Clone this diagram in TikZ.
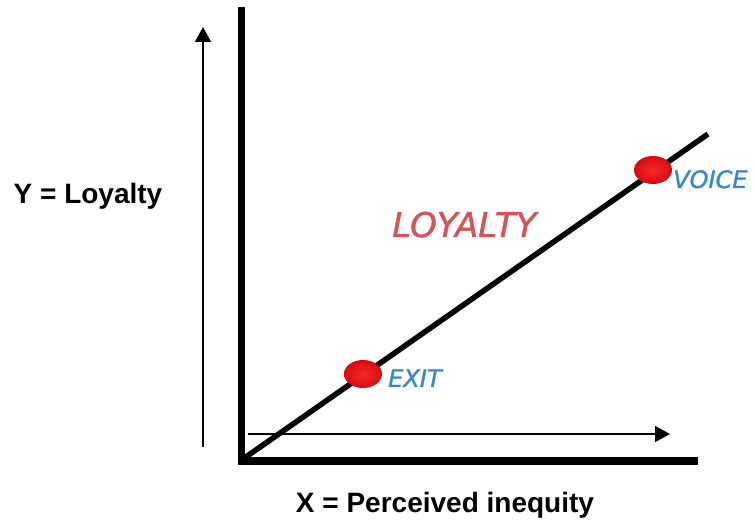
\documentclass[tikz,border=0pt]{standalone}
\usepackage{fontspec}
\setmainfont{Liberation Sans}
\newfontfamily\labelfont[FakeBold=1.3]{DejaVu Sans}
\usetikzlibrary{arrows.meta,shapes.geometric}
\definecolor{dotred}{RGB}{246,40,40}
\definecolor{dotdark}{RGB}{215,12,18}
\definecolor{voiceblue}{RGB}{58,135,208}
\definecolor{loyred}{RGB}{214,84,88}
\tikzset{
  axisline/.style={line width=7.5pt, line join=miter},
  diagline/.style={line width=5.5pt},
  thinarrow/.style={line width=1.5pt, -{Triangle[length=15pt,width=16pt]}},
  reddot/.style={ellipse, minimum width=38pt, minimum height=28pt, inner sep=0pt,
    inner color=dotred, outer color=dotdark},
  ptlabel/.style={font=\labelfont\itshape\fontsize{24}{26}\selectfont, text=voiceblue, inner sep=0pt, anchor=base west},
  axlabel/.style={font=\bfseries\fontsize{28}{30}\selectfont, inner sep=0pt, anchor=base},
}
\begin{document}
\begin{tikzpicture}[x=1pt,y=-1pt]
\useasboundingbox (0,0) rectangle (755,526);
% axes
\coordinate (ytop) at (241.5,7);
\coordinate (orig) at (241.5,461);
\coordinate (xend) at (698,461);
\draw[axisline] (ytop) -- (orig) -- (xend);
% diagonal
\coordinate (dstart) at (243,459);
\coordinate (dend) at (708,134);
\draw[diagline] (dstart) -- (dend);
% thin arrows
\coordinate (yarrS) at (203,447);
\coordinate (yarrE) at (203,27);
\draw[thinarrow] (yarrS) -- (yarrE);
\coordinate (xarrS) at (248,434);
\coordinate (xarrE) at (670,434);
\draw[thinarrow] (xarrS) -- (xarrE);
% dots
\node[reddot] (exitdot) at (363,374) {};
\node[reddot] (voicedot) at (653,170) {};
% labels
\node[ptlabel] (exit) at (388,387) {EXIT};
\node[ptlabel] (voice) at (673,188) {VOICE};
\node[font=\labelfont\itshape\fontsize{34}{36}\selectfont, text=loyred, inner sep=0pt, anchor=base west] (loyalty) at (392,237) {LOYALTY};
\node[axlabel] (ylab) at (88,204) {Y = Loyalty};
\node[axlabel] (xlab) at (445,512) {X = Perceived inequity};
\end{tikzpicture}
\end{document}
